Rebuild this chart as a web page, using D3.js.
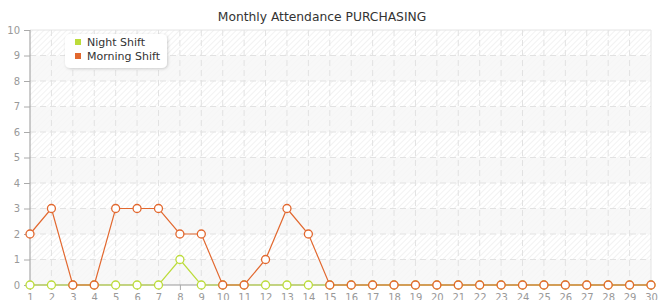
<!DOCTYPE html>
<html>
<head>
<meta charset="utf-8">
<script src="https://cdn.jsdelivr.net/npm/d3@7"></script>
<style>
  body { margin: 0; background: #fff; }
  svg { display: block; font-family: Verdana, "DejaVu Sans", sans-serif; }
</style>
</head>
<body>
<div class="chart"></div>
<script>

var days = d3.range(1, 31);
var nightShift = [0,0,0,0,0,0,0,1,0,0,0,0,0,0,0,0,0,0,0,0,0,0,0,0,0,0,0,0,0,0];
var morningShift = [2,3,0,0,3,3,3,2,2,0,0,1,3,2,0,0,0,0,0,0,0,0,0,0,0,0,0,0,0,0];
var yTicks = [0,1,2,3,4,5,6,7,8,9,10];
var seriesNames = ["Night Shift", "Morning Shift"];
var seriesColors = ["#bcdc3a", "#e2682f"];

var width = 665, height = 300;
var plotLeft = 30, plotRight = 651, plotTop = 30, plotBottom = 285;

var svg = d3.select('.chart')
    .append('svg')
    .attr('width', width)
    .attr('height', height);

var defs = svg.append('defs');
var pat = defs.append('pattern')
    .attr('id', 'hatch')
    .attr('patternUnits', 'userSpaceOnUse')
    .attr('width', 4)
    .attr('height', 4)
    .attr('patternTransform', 'rotate(45)');
pat.append('rect').attr('width', 4).attr('height', 4).attr('fill', '#fff');
pat.append('line')
    .attr('x1', 0).attr('y1', 0).attr('x2', 0).attr('y2', 4)
    .attr('stroke', '#ededed').attr('stroke-width', 1.4);

var shadow = defs.append('filter').attr('id', 'shadow')
    .attr('x', '-20%').attr('y', '-30%').attr('width', '140%').attr('height', '160%');
shadow.append('feDropShadow')
    .attr('dx', 1).attr('dy', 1).attr('stdDeviation', 1.5)
    .attr('flood-color', '#000').attr('flood-opacity', 0.18);

var scaleX = d3.scaleLinear()
    .domain([1, 30])
    .range([plotLeft, plotRight]);

var scaleY = d3.scaleLinear()
    .domain([0, 10])
    .range([plotBottom, plotTop]);

// plot background
svg.append('rect')
    .attr('x', plotLeft).attr('y', plotTop)
    .attr('width', plotRight - plotLeft).attr('height', plotBottom - plotTop)
    .attr('fill', 'url(#hatch)');

// alternating bands
svg.append('g').selectAll('rect')
    .data(yTicks.slice(0, -1).filter(d => d % 2 == 0))
    .enter()
    .append('rect')
    .attr('x', plotLeft)
    .attr('y', d => scaleY(d + 1))
    .attr('width', plotRight - plotLeft)
    .attr('height', d => scaleY(d) - scaleY(d + 1))
    .attr('fill', '#f6f6f6')
    .attr('opacity', 0.8);

// frame top / right
svg.append('path')
    .attr('d', 'M' + plotLeft + ',' + plotTop + 'H' + plotRight + 'V' + plotBottom)
    .attr('fill', 'none')
    .attr('stroke', '#e4e4e4');

// grid
svg.append('g').selectAll('line')
    .data(yTicks.slice(1, -1))
    .enter()
    .append('line')
    .attr('x1', plotLeft).attr('x2', plotRight)
    .attr('y1', d => scaleY(d)).attr('y2', d => scaleY(d))
    .attr('stroke', '#e2e2e2')
    .attr('stroke-dasharray', '6,4');

svg.append('g').selectAll('line')
    .data(days.slice(1, -1))
    .enter()
    .append('line')
    .attr('x1', d => scaleX(d)).attr('x2', d => scaleX(d))
    .attr('y1', plotTop).attr('y2', plotBottom)
    .attr('stroke', '#e2e2e2')
    .attr('stroke-dasharray', '6,4');

// axes
var axisY = d3.axisLeft(scaleY).tickValues(yTicks).tickSize(6).tickPadding(4);
var gy = svg.append('g')
    .attr('transform', 'translate(' + plotLeft + ',0)')
    .call(axisY);

var axisX = d3.axisBottom(scaleX).tickValues(days).tickFormat(d3.format('d')).tickSize(5).tickPadding(4);
var gx = svg.append('g')
    .attr('transform', 'translate(0,' + plotBottom + ')')
    .call(axisX);

[gx, gy].forEach(function (g) {
    g.select('.domain').attr('stroke', '#999');
    g.selectAll('.tick line').attr('stroke', '#aaa');
    g.selectAll('.tick text')
        .attr('fill', '#999')
        .style('font-size', '10px')
        .style('font-family', 'Verdana, "DejaVu Sans", sans-serif');
});
gy.select('.domain').attr('d', 'M0,' + plotTop + 'V' + plotBottom);
gx.select('.domain').attr('d', 'M' + plotLeft + ',0H' + plotRight);

// series
var line = d3.line()
    .x((d, i) => scaleX(days[i]))
    .y(d => scaleY(d));

[nightShift, morningShift].forEach(function (values, k) {
    var g = svg.append('g');
    g.append('path')
        .datum(values)
        .attr('d', line)
        .attr('fill', 'none')
        .attr('stroke', seriesColors[k])
        .attr('stroke-width', 1.2);

    g.selectAll('circle')
        .data(values)
        .enter()
        .append('circle')
        .attr('cx', (d, i) => scaleX(days[i]))
        .attr('cy', d => scaleY(d))
        .attr('r', 4)
        .attr('fill', '#fff')
        .attr('stroke', seriesColors[k])
        .attr('stroke-width', 1.3);
});

// title
svg.append('text')
    .attr('x', 322)
    .attr('y', 21)
    .style('text-anchor', 'middle')
    .style('font-size', '12.3px')
    .attr('fill', '#333')
    .text('Monthly Attendance PURCHASING');

// legend
var legend = svg.append('g');
legend.append('rect')
    .attr('x', 65).attr('y', 34)
    .attr('width', 102).attr('height', 34)
    .attr('rx', 5)
    .attr('fill', '#fff')
    .attr('filter', 'url(#shadow)');

var items = legend.selectAll('g.item')
    .data(seriesNames)
    .enter()
    .append('g')
    .attr('transform', (d, i) => 'translate(75,' + (39 + i * 14) + ')');

items.append('rect')
    .attr('width', 6).attr('height', 6)
    .attr('fill', (d, i) => seriesColors[i]);

items.append('text')
    .attr('x', 12)
    .attr('y', 7)
    .style('font-size', '11px')
    .attr('fill', '#333')
    .text(d => d);

</script>
</body>
</html>
